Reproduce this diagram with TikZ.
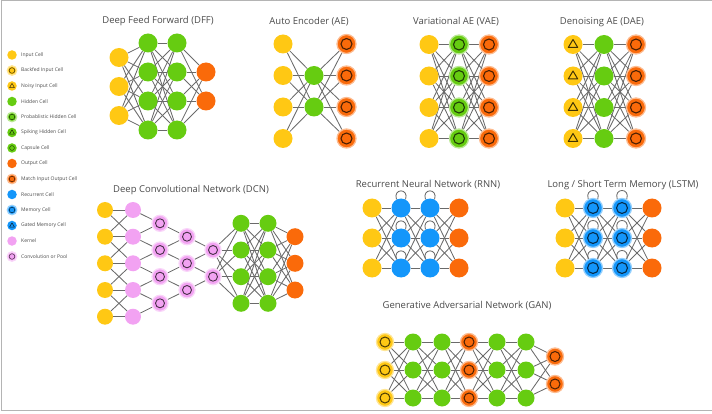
\documentclass[tikz,border=0pt]{standalone}
\usepackage{fontspec}
\setmainfont{Open Sans}
\usetikzlibrary{backgrounds}
\definecolor{cin}{HTML}{FFC814}
\definecolor{chid}{HTML}{66CC11}
\definecolor{cout}{HTML}{FA6A0A}
\definecolor{crec}{HTML}{1496FA}
\definecolor{cker}{HTML}{F2A2F2}
\definecolor{edgec}{HTML}{6A6A6A}
\definecolor{titc}{HTML}{4A4A4A}
\definecolor{framec}{HTML}{B4B4B4}
\newcommand\fullc[4]{\foreach \ia in {1,...,#2}{\foreach \ib in {1,...,#4}{\draw[edge] (#1-\ia) -- (#3-\ib);}}}
\tikzset{
  cell/.style={circle,inner sep=0pt,minimum size=#1},
  cell/.default=19pt,
  edge/.style={draw=edgec,line width=0.85pt},
  inring/.style={path picture={\draw[black,draw opacity=0.7,line width=#1/5] (path picture bounding box.center) circle (#1);}},
  intri/.style={path picture={\draw[black,draw opacity=0.75,line width=#1/5,line join=round] (path picture bounding box.center) ++(0,#1) -- ++({-0.95*#1},{-1.6*#1}) -- ++({1.9*#1},0) -- cycle;}},
  halo/.style={draw=#1!45!white,line width=1.3pt},
  inc/.style={fill=cin},
  hidc/.style={fill=chid},
  outc/.style={fill=cout},
  recc/.style={fill=crec},
  kerc/.style={fill=cker},
  bfc/.style={fill=cin,halo=cin,inring=#1}, bfc/.default=5.5pt,
  nic/.style={fill=cin,intri=#1}, nic/.default=5pt,
  phc/.style={fill=chid,halo=chid,inring=#1}, phc/.default=5.5pt,
  shc/.style={fill=chid,intri=#1}, shc/.default=5pt,
  capc/.style={fill=chid,inring=#1}, capc/.default=5pt,
  mioc/.style={fill=cout,halo=cout,inring=#1}, mioc/.default=5.5pt,
  memc/.style={fill=crec,halo=crec,inring=#1}, memc/.default=5.5pt,
  gmc/.style={fill=crec,intri=#1}, gmc/.default=5pt,
  convc/.style={fill=cker,halo=cker,inring=#1}, convc/.default=4.5pt,
  title/.style={text=titc,font=\fontsize{9.5}{11}\selectfont,inner sep=0pt},
  legt/.style={text=titc,font=\fontsize{5}{6}\selectfont,inner sep=0pt,anchor=west},
  lcell/.style={cell=9.5pt,line width=0.6pt},
}
\begin{document}
\begin{tikzpicture}[x=1pt,y=1pt]
\useasboundingbox (0,0) rectangle (712,-414);
\draw[framec,line width=1pt] (712,-1) -- (1,-1) -- (1,-410.5) -- (712,-410.5);

% ---------- legend ----------
\node[lcell,inc] (leg-1) at (12,-55) {};
\node[lcell,bfc=2.8pt] (leg-2) at (12,-70.5) {};
\node[lcell,nic=2.6pt] (leg-3) at (12,-86) {};
\node[lcell,hidc] (leg-4) at (12,-101.5) {};
\node[lcell,phc=2.8pt] (leg-5) at (12,-117) {};
\node[lcell,shc=2.6pt] (leg-6) at (12,-132.5) {};
\node[lcell,capc=2.4pt] (leg-7) at (12,-148) {};
\node[lcell,outc] (leg-8) at (12,-163.5) {};
\node[lcell,mioc=2.8pt] (leg-9) at (12,-179) {};
\node[lcell,recc] (leg-10) at (12,-194.5) {};
\node[lcell,memc=2.8pt] (leg-11) at (12,-210) {};
\node[lcell,gmc=2.6pt] (leg-12) at (12,-225.5) {};
\node[lcell,kerc] (leg-13) at (12,-241) {};
\node[lcell,convc=2.8pt] (leg-14) at (12,-256.5) {};
\node[legt] (legt-1) at (21,-55) {Input Cell};
\node[legt] (legt-2) at (21,-70.5) {Backfed Input Cell};
\node[legt] (legt-3) at (21,-86) {Noisy Input Cell};
\node[legt] (legt-4) at (21,-101.5) {Hidden Cell};
\node[legt] (legt-5) at (21,-117) {Probablistic Hidden Cell};
\node[legt] (legt-6) at (21,-132.5) {Spiking Hidden Cell};
\node[legt] (legt-7) at (21,-148) {Capsule Cell};
\node[legt] (legt-8) at (21,-163.5) {Output Cell};
\node[legt] (legt-9) at (21,-179) {Match Input Output Cell};
\node[legt] (legt-10) at (21,-194.5) {Recurrent Cell};
\node[legt] (legt-11) at (21,-210) {Memory Cell};
\node[legt] (legt-12) at (21,-225.5) {Gated Memory Cell};
\node[legt] (legt-13) at (21,-241) {Kernel};
\node[legt] (legt-14) at (21,-256.5) {Convolution or Pool};

% ---------- titles ----------
\node[title] (t-dff) at (158,-21) {Deep Feed Forward (DFF)};
\node[title] (t-ae) at (309,-22) {Auto Encoder (AE)};
\node[title] (t-vae) at (456,-22) {Variational AE (VAE)};
\node[title] (t-dae) at (602,-22) {Denoising AE (DAE)};
\node[title] (t-dcn) at (191,-190) {Deep Convolutional Network (DCN)};
\node[title] (t-rnn) at (428,-185) {Recurrent Neural Network (RNN)};
\node[title] (t-lstm) at (623,-185) {Long / Short Term Memory (LSTM)};
\node[title] (t-gan) at (467,-306) {Generative Adversarial Network (GAN)};

% ---------- DFF ----------
\foreach \y [count=\i] in {57.5,86.5,115.5} \node[cell,inc] (dff0-\i) at (119,-\y) {};
\foreach \y [count=\i] in {43,72,101,130} {\node[cell,hidc] (dff1-\i) at (148,-\y) {}; \node[cell,hidc] (dff2-\i) at (177,-\y) {};}
\foreach \y [count=\i] in {72,101} \node[cell,outc] (dff3-\i) at (206,-\y) {};

% ---------- AE ----------
\foreach \y [count=\i] in {44,75.5,107,138.5} {\node[cell,inc] (ae0-\i) at (283,-\y) {}; \node[cell,mioc] (ae2-\i) at (346.5,-\y) {};}
\foreach \y [count=\i] in {75.5,107} \node[cell,hidc] (ae1-\i) at (314,-\y) {};

% ---------- VAE ----------
\foreach \y [count=\i] in {44.5,76,107.5,138.5} {\node[cell,inc] (vae0-\i) at (429,-\y) {}; \node[cell,phc] (vae1-\i) at (459,-\y) {}; \node[cell,mioc] (vae2-\i) at (489,-\y) {};}

% ---------- DAE ----------
\foreach \y [count=\i] in {44.5,76,107.5,138.5} {\node[cell,nic] (dae0-\i) at (573,-\y) {}; \node[cell,hidc] (dae1-\i) at (604,-\y) {}; \node[cell,mioc] (dae2-\i) at (636,-\y) {};}

% ---------- DCN ----------
\foreach \y [count=\i] in {210,236.7,263.3,290,316.7} {\node[cell=16pt,inc] (dcn0-\i) at (105,-\y) {}; \node[cell=16pt,kerc] (dcn1-\i) at (133,-\y) {};}
\foreach \y [count=\i] in {223.3,250,276.7,303.3} {\node[cell=16pt,convc] (dcn2-\i) at (160,-\y) {}; \node[cell=17pt,hidc] (dcn5-\i) at (241,-\y) {}; \node[cell=17pt,hidc] (dcn6-\i) at (268,-\y) {};}
\foreach \y [count=\i] in {236.7,263.3,290} {\node[cell=16pt,convc] (dcn3-\i) at (187,-\y) {}; \node[cell=17pt,outc] (dcn7-\i) at (295,-\y) {};}
\foreach \y [count=\i] in {250,276.7} \node[cell=16pt,convc] (dcn4-\i) at (213,-\y) {};

% ---------- RNN ----------
\foreach \y [count=\i] in {208,238,268} {\node[cell,inc] (rnn0-\i) at (372,-\y) {}; \node[cell,recc] (rnn1-\i) at (401,-\y) {}; \node[cell,recc] (rnn2-\i) at (430,-\y) {}; \node[cell,outc] (rnn3-\i) at (459,-\y) {};}

% ---------- LSTM ----------
\foreach \y [count=\i] in {208,238,268} {\node[cell,inc] (lstm0-\i) at (565,-\y) {}; \node[cell,memc] (lstm1-\i) at (593,-\y) {}; \node[cell,memc] (lstm2-\i) at (622,-\y) {}; \node[cell,outc] (lstm3-\i) at (652,-\y) {};}

% ---------- GAN ----------
\foreach \y [count=\i] in {342,370,398} {\node[cell=17pt,bfc=5pt] (gan0-\i) at (385,-\y) {}; \node[cell=17pt,hidc] (gan1-\i) at (413,-\y) {}; \node[cell=17pt,hidc] (gan2-\i) at (442,-\y) {}; \node[cell=17pt,mioc=5pt] (gan3-\i) at (469,-\y) {}; \node[cell=17pt,hidc] (gan4-\i) at (497,-\y) {}; \node[cell=17pt,hidc] (gan5-\i) at (526,-\y) {};}
\foreach \y [count=\i] in {356.5,384} \node[cell=17pt,mioc=5pt] (gan6-\i) at (555,-\y) {};

% ---------- connectors ----------
\begin{scope}[on background layer]
\fullc{dff0}{3}{dff1}{4} \fullc{dff1}{4}{dff2}{4} \fullc{dff2}{4}{dff3}{2}
\fullc{ae0}{4}{ae1}{2} \fullc{ae1}{2}{ae2}{4}
\fullc{vae0}{4}{vae1}{4} \fullc{vae1}{4}{vae2}{4}
\fullc{dae0}{4}{dae1}{4} \fullc{dae1}{4}{dae2}{4}
\foreach \a/\b in {1/1,1/2,2/1,2/2,2/3,3/2,3/3,3/4,4/3,4/4,4/5,5/4,5/5} \draw[edge] (dcn0-\a) -- (dcn1-\b);
\foreach \a/\b in {1/1,2/1,2/2,3/2,3/3,4/3,4/4,5/4} \draw[edge] (dcn1-\a) -- (dcn2-\b);
\foreach \a/\b in {1/1,2/1,2/2,3/2,3/3,4/3} \draw[edge] (dcn2-\a) -- (dcn3-\b);
\foreach \a/\b in {1/1,2/1,2/2,3/2} \draw[edge] (dcn3-\a) -- (dcn4-\b);
\fullc{dcn4}{2}{dcn5}{4} \fullc{dcn5}{4}{dcn6}{4} \fullc{dcn6}{4}{dcn7}{3}
\fullc{rnn0}{3}{rnn1}{3} \fullc{rnn1}{3}{rnn2}{3} \fullc{rnn2}{3}{rnn3}{3}
\fullc{lstm0}{3}{lstm1}{3} \fullc{lstm1}{3}{lstm2}{3} \fullc{lstm2}{3}{lstm3}{3}
\foreach \n in {rnn1,rnn2,lstm1,lstm2} {\foreach \i in {1,2,3} {\draw[edge] (\n-\i.118) .. controls +(108:12) and +(72:12) .. (\n-\i.62);}}
\fullc{gan0}{3}{gan1}{3} \fullc{gan1}{3}{gan2}{3} \fullc{gan2}{3}{gan3}{3} \fullc{gan3}{3}{gan4}{3} \fullc{gan4}{3}{gan5}{3} \fullc{gan5}{3}{gan6}{2}
\end{scope}
\end{tikzpicture}
\end{document}
